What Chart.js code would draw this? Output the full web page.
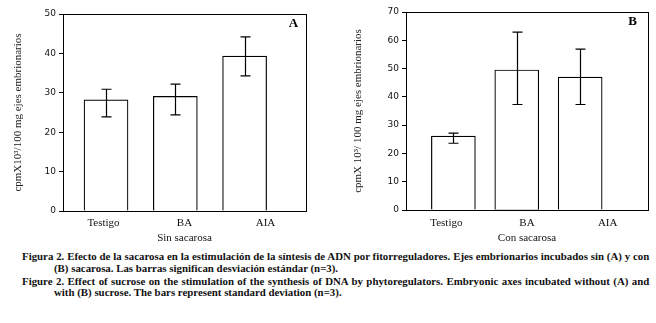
<!DOCTYPE html>
<html><head><meta charset="utf-8">
<script src="https://cdn.jsdelivr.net/npm/chart.js@4"></script>
<style>
body{margin:0;background:#fff;width:656px;height:323px;overflow:hidden;position:relative}
canvas{position:absolute;top:0}
.cap{position:absolute;font:bold 10px "Liberation Serif",serif;line-height:12px;white-space:nowrap;transform-origin:0 0;color:#111}
</style></head><body>
<canvas id="ca" width="328" height="250" style="left:0"></canvas>
<canvas id="cb" width="328" height="250" style="left:328px"></canvas>
<div class="cap" id="l0"></div>
<div class="cap" id="l1"></div>
<div class="cap" id="l2"></div>
<div class="cap" id="l3"></div>
<script>
const categories = ['Testigo', 'BA', 'AIA'];
// Panel A: Sin sacarosa
const valuesA = [28.2, 29.1, 39.3];
const errHighA = [30.9, 32.2, 44.2];
const errLowA = [23.9, 24.4, 34.3];
const yTicksA = [0, 10, 20, 30, 40, 50];
// Panel B: Con sacarosa
const valuesB = [26.1, 49.5, 47.0];
const errHighB = [27.2, 62.9, 56.9];
const errLowB = [23.6, 37.3, 37.3];
const yTicksB = [0, 10, 20, 30, 40, 50, 60, 70];

const yTitleA = 'cpmX10³/100 mg ejes embrionarios';
const yTitleB = 'cpmX 10³/ 100 mg ejes embrionarios';
const xTitleA = 'Sin sacarosa';
const xTitleB = 'Con sacarosa';
const captionLines = [
  'Figura 2. Efecto de la sacarosa en la estimulación de la síntesis de ADN por fitorreguladores. Ejes embrionarios incubados sin (A) y con',
  '(B) sacarosa. Las barras significan desviación estándar (n=3).',
  'Figure 2. Effect of sucrose on the stimulation of the synthesis of DNA by phytoregulators. Embryonic axes incubated without (A) and',
  'with (B) sucrose. The bars represent standard deviation (n=3).'
];
const SERIF = '"Liberation Serif", "Times New Roman", serif';

const framePlugin = {
  id: 'frame',
  afterDatasetsDraw(chart, args, opts) {
    const {ctx, scales} = chart;
    const xb = scales.xb, y = scales.y;
    const a = chart.chartArea;
    ctx.save();
    ctx.strokeStyle = '#000';
    ctx.lineWidth = 1.2;
    opts.hi.forEach((h, i) => {
      const x = Math.round(xb.getPixelForValue(i + 1)) + 0.5;
      const yh = y.getPixelForValue(h), yl = y.getPixelForValue(opts.lo[i]);
      ctx.beginPath();
      ctx.moveTo(x, yh); ctx.lineTo(x, yl);
      ctx.moveTo(x - 5, yh); ctx.lineTo(x + 5, yh);
      ctx.moveTo(x - 5, yl); ctx.lineTo(x + 5, yl);
      ctx.stroke();
    });
    ctx.lineWidth = 1;
    ctx.strokeRect(Math.round(a.left) + 0.5, Math.round(a.top) + 0.5,
      Math.round(a.right) - Math.round(a.left), Math.round(a.bottom) - Math.round(a.top));
    ctx.fillStyle = '#000';
    ctx.font = 'bold 13px ' + SERIF;
    ctx.textAlign = 'center';
    ctx.textBaseline = 'middle';
    ctx.fillText(opts.letter, a.right - opts.lxOff, a.top + 10);
    ctx.restore();
  }
};

function makeChart(id, values, hi, lo, yTicks, yTitle, xTitle, letter, g) {
  new Chart(document.getElementById(id), {
    type: 'bar',
    data: {
      labels: categories,
      datasets: [{
        data: values.map((v, i) => ({x: i + 1, y: v})),
        xAxisID: 'xb',
        backgroundColor: '#fff',
        borderColor: '#000',
        borderWidth: 1.2,
        barThickness: 44
      }]
    },
    options: {
      responsive: false,
      animation: false,
      devicePixelRatio: 1,
      layout: {padding: {left: 0, top: g.top, right: g.right, bottom: 0}},
      plugins: {
        legend: {display: false},
        tooltip: {enabled: false},
        frame: {hi: hi, lo: lo, letter: letter, lxOff: g.lxOff}
      },
      scales: {
        x: {
          type: 'category',
          position: 'bottom',
          offset: true,
          grid: {display: false, drawTicks: false},
          border: {display: false},
          ticks: {padding: g.tickPad, color: '#111', font: {family: SERIF, size: 11}},
          title: {display: true, text: xTitle, color: '#111', padding: {top: 0, bottom: 5},
                  font: {family: SERIF, size: 11}},
          afterFit(s) { s.height = g.xh; }
        },
        xb: {
          type: 'linear',
          axis: 'x',
          position: 'bottom',
          display: false,
          offset: false,
          min: g.xbMin,
          max: g.xbMax
        },
        y: {
          type: 'linear',
          min: yTicks[0],
          max: yTicks[yTicks.length - 1],
          afterBuildTicks(s) { s.ticks = yTicks.map(v => ({value: v})); },
          grid: {drawOnChartArea: false, drawTicks: true, tickLength: 4, color: '#000', lineWidth: 1},
          border: {display: false},
          ticks: {padding: 3, color: '#111', font: {family: '"DejaVu Sans", sans-serif', size: 9}},
          title: {display: true, text: yTitle, color: '#222', padding: {top: g.tPad, bottom: 0},
                  font: {family: SERIF, size: 11}},
          afterFit(s) { s.width = g.left; }
        }
      }
    },
    plugins: [framePlugin]
  });
}

makeChart('ca', valuesA, errHighA, errLowA, yTicksA, yTitleA, xTitleA, 'A',
  {left: 63, top: 14, right: 22, xh: 39, tickPad: 6, tPad: 12, lxOff: 12.5, xbMin: 0.379, xbMax: 3.886});
makeChart('cb', valuesB, errHighB, errLowB, yTicksB, yTitleB, xTitleB, 'B',
  {left: 78, top: 12, right: 8, xh: 40, tickPad: 7, tPad: 24, lxOff: 15.5, xbMin: 0.2526, xbMax: 4.07});

// caption
const mctx = document.createElement('canvas').getContext('2d');
mctx.font = 'bold 10px ' + SERIF;
const lefts = [21.7, 54, 21.7, 54];
const mids = [257.3, 269.3, 281.7, 293.3];
const fullW = 649 - lefts[0];
const sc = Math.min(
  271 / mctx.measureText('(B) sacarosa. Las barras significan desviación estándar ').width,
  (fullW - 2) / mctx.measureText(captionLines[0]).width,
  (fullW - 2) / mctx.measureText(captionLines[2]).width
);
captionLines.forEach((t, i) => {
  const el = document.getElementById('l' + i);
  el.textContent = t;
  el.style.left = lefts[i] + 'px';
  el.style.top = (mids[i] - 6) + 'px';
  el.style.transform = 'scaleX(' + sc + ')';
  if (i % 2 === 0) {
    el.style.width = (fullW / sc) + 'px';
    el.style.textAlign = 'justify';
    el.style.textAlignLast = 'justify';
    el.style.height = '12px';
  }
});
</script>
</body></html>
